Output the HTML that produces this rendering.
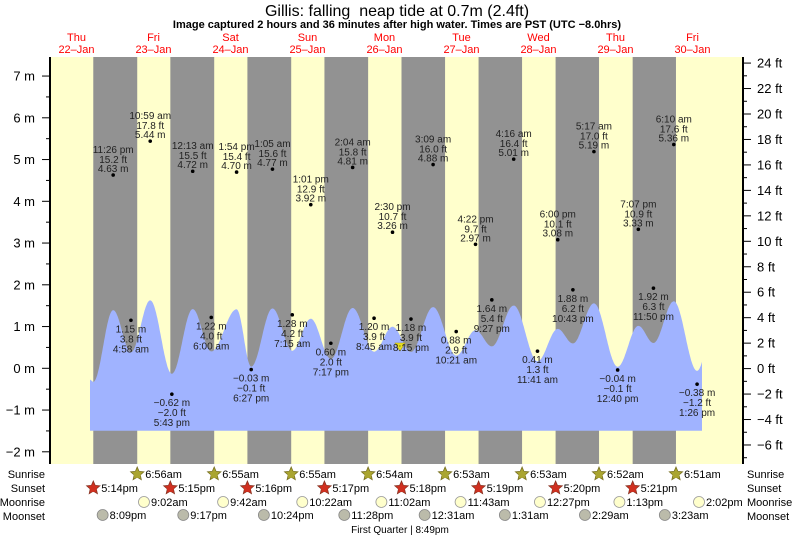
<!DOCTYPE html>
<html><head><meta charset="utf-8">
<style>
html,body{margin:0;padding:0;background:#fff;}
svg{display:block;font-family:"Liberation Sans",sans-serif;}
</style></head>
<body>
<svg id="s" width="793" height="538" viewBox="0 0 793 538" xmlns="http://www.w3.org/2000/svg"></svg>
<script>
(function(){
const S=document.getElementById('s');
let h='';
const X=t=>38+t*3.2083;
const Y=m=>368.3-m*41.75;
const TOPY=57,BOTY=464,L=50,R=743;
h+=`<rect x="${L}" y="${TOPY}" width="${R-L}" height="${BOTY-TOPY}" fill="#ffffcc"/>`;
const sunset=[17.23,17.25,17.27,17.28,17.3,17.32,17.33,17.35];
const sunrise=[6.93,6.92,6.92,6.9,6.88,6.88,6.87,6.85];
for(let d=0;d<8;d++){
  const a=X(d*24+sunset[d]),b=X((d+1)*24+sunrise[d]);
  h+=`<rect x="${a}" y="${TOPY}" width="${b-a}" height="${BOTY-TOPY}" fill="#929292"/>`;
}
const E=[[17.2,-1.3],[23.43,4.63],[28.97,1.15],[34.98,5.44],[41.72,-0.62],[48.22,4.72],[54.0,1.22],[61.9,4.70],[66.45,-0.03],[73.08,4.77],[79.25,1.28],[85.02,3.92],[91.28,0.60],[98.07,4.81],[104.75,1.20],[110.5,3.26],[116.25,1.18],[123.15,4.88],[130.35,0.88],[136.37,2.97],[141.45,1.64],[148.27,5.01],[155.68,0.41],[162.0,3.08],[166.72,1.88],[173.28,5.19],[180.67,-0.04],[187.12,3.33],[191.83,1.92],[198.17,5.36],[205.43,-0.38],[211.5,4.6]];
const C=v=>0.29*v+0.05;
function val(t){
  if(t<E[0][0])return C(E[0][1])+0.06*(E[0][0]-t);
  let i=0;while(i<E.length-2&&E[i+1][0]<t)i++;
  const t0=E[i][0],v0=E[i][1],t1=E[i+1][0],v1=E[i+1][1];
  const f=(t-t0)/(t1-t0);
  return C(v0)+(C(v1)-C(v0))*(1-Math.cos(Math.PI*f))/2;
}
const ta=(90-38)/3.2083,tb=(702-38)/3.2083;
let p=`M${X(ta)},430.7 `;
for(let t=ta;t<=tb;t+=0.2)p+=`L${X(t).toFixed(1)},${Y(val(t)).toFixed(1)} `;
p+=`L${X(tb)},${Y(val(tb)).toFixed(1)} L${X(tb)},430.7 Z`;
h+=`<path d="${p}" fill="#a0b3ff"/>`;
const lbl=[["11:26 pm",23.43,4.63,"15.2 ft",1],["4:58 am",28.97,1.15,"3.8 ft",0],["10:59 am",34.98,5.44,"17.8 ft",1],["5:43 pm",41.72,-0.62,"\u22122.0 ft",0],["12:13 am",48.22,4.72,"15.5 ft",1],["6:00 am",54.0,1.22,"4.0 ft",0],["1:54 pm",61.9,4.70,"15.4 ft",1],["6:27 pm",66.45,-0.03,"\u22120.1 ft",0],["1:05 am",73.08,4.77,"15.6 ft",1],["7:15 am",79.25,1.28,"4.2 ft",0],["1:01 pm",85.02,3.92,"12.9 ft",1],["7:17 pm",91.28,0.60,"2.0 ft",0],["2:04 am",98.07,4.81,"15.8 ft",1],["8:45 am",104.75,1.20,"3.9 ft",0],["2:30 pm",110.5,3.26,"10.7 ft",1],["8:15 pm",116.25,1.18,"3.9 ft",0],["3:09 am",123.15,4.88,"16.0 ft",1],["10:21 am",130.35,0.88,"2.9 ft",0],["4:22 pm",136.37,2.97,"9.7 ft",1],["9:27 pm",141.45,1.64,"5.4 ft",0],["4:16 am",148.27,5.01,"16.4 ft",1],["11:41 am",155.68,0.41,"1.3 ft",0],["6:00 pm",162.0,3.08,"10.1 ft",1],["10:43 pm",166.72,1.88,"6.2 ft",0],["5:17 am",173.28,5.19,"17.0 ft",1],["12:40 pm",180.67,-0.04,"\u22120.1 ft",0],["7:07 pm",187.12,3.33,"10.9 ft",1],["11:50 pm",191.83,1.92,"6.3 ft",0],["6:10 am",198.17,5.36,"17.6 ft",1],["1:26 pm",205.43,-0.38,"\u22121.2 ft",0]];
const fm=v=>(v<0?"\u2212"+(-v).toFixed(2):v.toFixed(2))+" m";
h+=`<polygon points="395,343 405,343 400,351" fill="#e8e020" stroke="#b0a010" stroke-width="0.6"/>`;
lbl.forEach(function(e){
  const tm=e[0],t=e[1],v=e[2],ft=e[3],hi=e[4];
  const x=X(t),y=Y(v);
  h+=`<circle cx="${x}" cy="${y}" r="1.8" fill="#000"/>`;
  const a=hi?[tm,ft,fm(v)]:[fm(v),ft,tm];
  const b=hi?[y-22,y-12,y-3]:[y+12,y+22,y+32];
  for(let k=0;k<3;k++)h+=`<text x="${x}" y="${b[k]}" font-size="10" text-anchor="middle" fill="#222">${a[k]}</text>`;
});
h+=`<line x1="${L}" y1="${TOPY}" x2="${L}" y2="${BOTY}" stroke="#000" stroke-width="2"/>`;
h+=`<line x1="${R}" y1="${TOPY}" x2="${R}" y2="${BOTY}" stroke="#000" stroke-width="2"/>`;
for(let m=-2.5;m<=7.5;m+=0.5){const y=Y(m);if(y<TOPY||y>BOTY)continue;
  const maj=Number.isInteger(m);
  h+=`<line x1="${maj?42:46}" y1="${y}" x2="${L}" y2="${y}" stroke="#000"/>`;
  if(maj)h+=`<text x="35" y="${y+4.5}" font-size="13" text-anchor="end" fill="#000">${m<0?"\u2212"+(-m):m} m</text>`;}
const Yf=f=>368.6-f*12.73;
for(let f=-7;f<=24;f++){const y=Yf(f);if(y<TOPY||y>BOTY)continue;
  const maj=f%2==0;
  h+=`<line x1="${R}" y1="${y}" x2="${maj?751:747}" y2="${y}" stroke="#000"/>`;
  if(maj)h+=`<text x="757" y="${y+4.5}" font-size="13" fill="#000">${f<0?"\u2212"+(-f):f} ft</text>`;}
h+=`<text x="397" y="16" font-size="16" text-anchor="middle" fill="#000" xml:space="preserve">Gillis: falling  neap tide at 0.7m (2.4ft)</text>`;
h+=`<text x="397" y="28" font-size="11" font-weight="bold" text-anchor="middle" fill="#000">Image captured 2 hours and 36 minutes after high water. Times are PST (UTC \u22128.0hrs)</text>`;
const days=[["Thu","22\u2013Jan"],["Fri","23\u2013Jan"],["Sat","24\u2013Jan"],["Sun","25\u2013Jan"],["Mon","26\u2013Jan"],["Tue","27\u2013Jan"],["Wed","28\u2013Jan"],["Thu","29\u2013Jan"],["Fri","30\u2013Jan"]];
days.forEach(function(d,i){const x=X(i*24+12);
  h+=`<text x="${x}" y="41" font-size="11" text-anchor="middle" fill="#ff0000">${d[0]}</text><text x="${x}" y="53" font-size="11" text-anchor="middle" fill="#ff0000">${d[1]}</text>`;});
const rows=[["Sunrise",478],["Sunset",492],["Moonrise",506],["Moonset",520]];
rows.forEach(function(r){h+=`<text x="45" y="${r[1]}" font-size="11" text-anchor="end" fill="#000">${r[0]}</text><text x="747" y="${r[1]}" font-size="11" fill="#000">${r[0]}</text>`;});
function star(cx,cy,fill,stroke){let pts=[];for(let k=0;k<10;k++){const rr=k%2?3.2:7,a=-Math.PI/2+k*Math.PI/5;pts.push((cx+rr*Math.cos(a)).toFixed(1)+","+(cy+rr*Math.sin(a)).toFixed(1));}
  return `<polygon points="${pts.join(' ')}" fill="${fill}" stroke="${stroke}" stroke-width="0.8"/><circle cx="${cx}" cy="${cy+0.5}" r="3.6" fill="${fill}"/>`;}
const sr=["6:56am","6:55am","6:55am","6:54am","6:53am","6:53am","6:52am","6:51am"];
sr.forEach(function(s,i){const x=X((i+1)*24+sunrise[i]);h+=star(x,474,"#aaa530","#776f20")+`<text x="${x+8}" y="478" font-size="11" fill="#000">${s}</text>`;});
const ss=["5:14pm","5:15pm","5:16pm","5:17pm","5:18pm","5:19pm","5:20pm","5:21pm"];
ss.forEach(function(s,i){const x=X(i*24+sunset[i]);h+=star(x,488,"#d03020","#883322")+`<text x="${x+8}" y="492" font-size="11" fill="#000">${s}</text>`;});
const mr=[[1,9.03,"9:02am"],[2,9.7,"9:42am"],[3,10.37,"10:22am"],[4,11.03,"11:02am"],[5,11.72,"11:43am"],[6,12.45,"12:27pm"],[7,13.22,"1:13pm"],[8,14.03,"2:02pm"]];
mr.forEach(function(e){const x=X(e[0]*24+e[1]);h+=`<circle cx="${x}" cy="502" r="5.5" fill="#ffffcc" stroke="#999" stroke-width="0.8"/><text x="${x+7}" y="506" font-size="11" fill="#000">${e[2]}</text>`;});
const ms=[[0,20.15,"8:09pm"],[1,21.28,"9:17pm"],[2,22.4,"10:24pm"],[3,23.47,"11:28pm"],[5,0.52,"12:31am"],[6,1.52,"1:31am"],[7,2.48,"2:29am"],[8,3.38,"3:23am"]];
ms.forEach(function(e){const x=X(e[0]*24+e[1]);h+=`<circle cx="${x}" cy="515" r="5.5" fill="#bbbbaa" stroke="#888" stroke-width="0.8"/><text x="${x+7}" y="519" font-size="11" fill="#000">${e[2]}</text>`;});
h+=`<text x="400" y="533" font-size="10" text-anchor="middle" fill="#000">First Quarter | 8:49pm</text>`;
S.innerHTML=h;
})();
</script>
</body></html>
